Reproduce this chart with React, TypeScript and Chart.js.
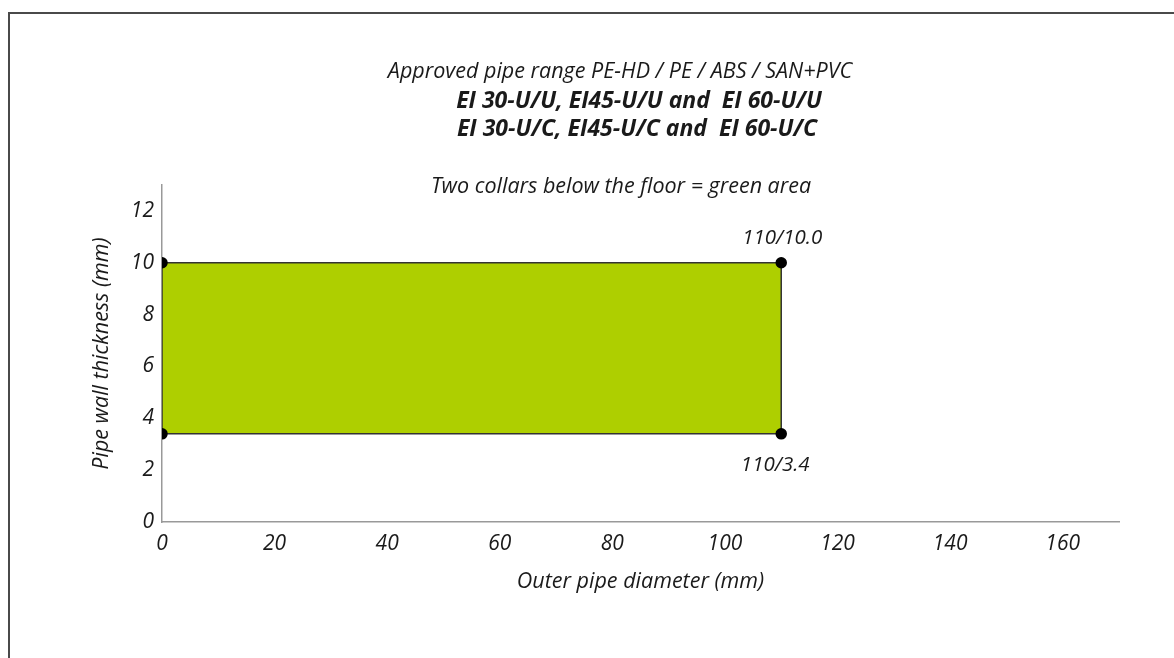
import React, { useEffect, useRef } from "react";
import { Chart, registerables } from "chart.js";

Chart.register(...registerables);

// Polygon corners of the approved area (outer diameter, wall thickness)
const outerDiameter = [0, 0, 110, 110, 0];
const wallThickness = [3.4, 10, 10, 3.4, 3.4];

// Corner annotations
const labelDiameter = [110, 110];
const labelThickness = [10.0, 3.4];
const labelText = ["110/10.0", "110/3.4"];

const titleLines = [
  "Approved pipe range PE-HD / PE / ABS / SAN+PVC",
  "EI 30-U/U, EI45-U/U and  EI 60-U/U",
  "EI 30-U/C, EI45-U/C and  EI 60-U/C",
  "Two collars below the floor = green area",
];

const xTickValues = [0, 20, 40, 60, 80, 100, 120, 140, 160];
const yTickValues = [0, 2, 4, 6, 8, 10, 12];

const FONT = "'Open Sans', 'Noto Sans', sans-serif";

export default function App() {
  const ref = useRef<HTMLCanvasElement | null>(null);

  useEffect(() => {
    const canvas = ref.current;
    if (!canvas) return;

    const framePlugin = {
      id: "frame",
      beforeDraw(chart: any) {
        const ctx = chart.ctx;
        ctx.save();
        ctx.strokeStyle = "#4a4a4a";
        ctx.lineWidth = 2;
        ctx.beginPath();
        ctx.moveTo(9, 700);
        ctx.lineTo(9, 13);
        ctx.lineTo(1200, 13);
        ctx.stroke();
        ctx.restore();
      },
      afterDraw(chart: any) {
        const ctx = chart.ctx;
        ctx.save();
        ctx.fillStyle = "#1a1a1a";
        ctx.textAlign = "center";
        ctx.textBaseline = "middle";
        ctx.font = `italic 21.5px ${FONT}`;
        ctx.fillText(titleLines[0], 620, 72);
        ctx.font = `italic bold 23px ${FONT}`;
        ctx.fillText(titleLines[1], 639, 101);
        ctx.fillText(titleLines[2], 637, 129);
        ctx.font = `italic 21.5px ${FONT}`;
        ctx.fillText(titleLines[3], 621, 187);

        const xs = chart.scales.x;
        const ys = chart.scales.y;
        ctx.font = `italic 20.5px ${FONT}`;
        labelText.forEach((t, i) => {
          const px = xs.getPixelForValue(labelDiameter[i]);
          const py = ys.getPixelForValue(labelThickness[i]);
          const above = i === 0;
          ctx.fillText(t, px + (above ? 1 : -6), py + (above ? -25 : 31));
        });
        ctx.restore();
      },
    };

    const chart = new Chart(canvas, {
      type: "scatter",
      data: {
        datasets: [
          {
            data: outerDiameter.map((x, i) => ({ x, y: wallThickness[i] })),
            showLine: true,
            fill: "shape",
            backgroundColor: "#aecf00",
            borderColor: "#333333",
            borderWidth: 1.5,
            pointRadius: [5, 5, 5, 5, 0],
            pointBackgroundColor: "#000",
            pointBorderColor: "#000",
            tension: 0,
          } as any,
        ],
      },
      plugins: [framePlugin],
      options: {
        animation: false,
        responsive: false,
        layout: { padding: { left: 0, top: 185, right: 55, bottom: 0 } },
        plugins: {
          legend: { display: false },
          tooltip: { enabled: false },
        },
        scales: {
          x: {
            type: "linear",
            min: 0,
            max: 170,
            afterBuildTicks: (s: any) => {
              s.ticks = xTickValues.map((v) => ({ value: v }));
            },
            afterFit: (s: any) => {
              s.height = 136;
            },
            grid: { display: false, drawTicks: false },
            border: { display: true, color: "#999999", width: 1.5 },
            ticks: {
              padding: 9,
              color: "#1a1a1a",
              font: { family: FONT, size: 21, style: "italic" },
              maxRotation: 0,
            },
            title: {
              display: true,
              text: "Outer pipe diameter (mm)",
              color: "#1a1a1a",
              font: { family: FONT, size: 21.5, style: "italic" },
              padding: { top: 0, bottom: 63 },
            },
          },
          y: {
            type: "linear",
            min: 0,
            max: 13,
            afterBuildTicks: (s: any) => {
              s.ticks = yTickValues.map((v) => ({ value: v }));
            },
            afterFit: (s: any) => {
              s.width = 162;
            },
            grid: { display: false, drawTicks: false },
            border: { display: true, color: "#999999", width: 1.5 },
            ticks: {
              padding: 8,
              color: "#1a1a1a",
              font: { family: FONT, size: 21, style: "italic" },
            },
            title: {
              display: true,
              text: "Pipe wall thickness (mm)",
              color: "#1a1a1a",
              font: { family: FONT, size: 21.5, style: "italic" },
              padding: { top: 89, bottom: 0 },
            },
          },
        },
      },
    });

    return () => chart.destroy();
  }, []);

  return (
    <canvas
      ref={ref}
      width={1174}
      height={658}
      style={{ position: "fixed", left: 0, top: 0, width: 1174, height: 658 }}
    />
  );
}
